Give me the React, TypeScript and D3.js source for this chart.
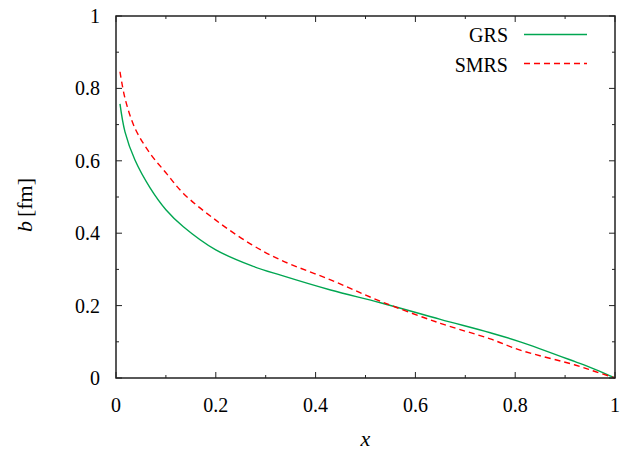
import * as d3 from "d3";

// x positions (momentum fraction)
const xs = [0.008, 0.018, 0.038, 0.068, 0.1, 0.135, 0.2, 0.27, 0.33, 0.43, 0.53, 0.65, 0.75, 0.81, 0.92, 0.96, 1.0];
const grs = [0.757, 0.68, 0.602, 0.526, 0.465, 0.418, 0.354, 0.311, 0.284, 0.243, 0.208, 0.162, 0.125, 0.1, 0.045, 0.024, 0];
const smrs = [0.846, 0.773, 0.69, 0.621, 0.567, 0.51, 0.436, 0.37, 0.326, 0.271, 0.212, 0.151, 0.108, 0.077, 0.036, 0.018, 0];

const majorTicks = [0, 0.2, 0.4, 0.6, 0.8, 1];
const minorTicks = [0.1, 0.3, 0.5, 0.7, 0.9];
const tickLabels = ["0", "0.2", "0.4", "0.6", "0.8", "1"];

const seriesNames = ["GRS", "SMRS"];

const W = 620;
const H = 454;
const margin = { left: 116, right: 5, top: 16, bottom: 76 };
const font = "'Liberation Serif', 'DejaVu Serif', serif";

export default function App() {
  const x = d3.scaleLinear().domain([0, 1]).range([margin.left, W - margin.right]);
  const y = d3.scaleLinear().domain([0, 1]).range([H - margin.bottom, margin.top]);

  const line = d3
    .line<number>()
    .x((_, i) => x(xs[i]))
    .y((d) => y(d))
    .curve(d3.curveCatmullRom.alpha(0.5));

  const x0 = x(0), x1 = x(1), y0 = y(0), y1 = y(1);

  const series = [
    { name: seriesNames[0], data: grs, color: "#00a651", dash: undefined },
    { name: seriesNames[1], data: smrs, color: "#ff0000", dash: "6,4" },
  ];

  return (
    <svg
      width={W}
      height={H}
      style={{ position: "absolute", left: 0, top: 0, background: "#fff" }}
    >
      {/* curves */}
      {series.map((s) => (
        <path
          key={s.name}
          d={line(s.data) ?? undefined}
          fill="none"
          stroke={s.color}
          strokeWidth={1.4}
          strokeDasharray={s.dash}
        />
      ))}

      {/* ticks, all four sides */}
      {majorTicks.map((t) => (
        <g key={"M" + t} stroke="#222" strokeWidth={1}>
          <line x1={x(t)} x2={x(t)} y1={y0} y2={y0 - 6} />
          <line x1={x(t)} x2={x(t)} y1={y1} y2={y1 + 6} />
          <line x1={x0} x2={x0 + 6} y1={y(t)} y2={y(t)} />
          <line x1={x1} x2={x1 - 6} y1={y(t)} y2={y(t)} />
        </g>
      ))}
      {minorTicks.map((t) => (
        <g key={"m" + t} stroke="#222" strokeWidth={1}>
          <line x1={x(t)} x2={x(t)} y1={y0} y2={y0 - 3} />
          <line x1={x(t)} x2={x(t)} y1={y1} y2={y1 + 3} />
          <line x1={x0} x2={x0 + 3} y1={y(t)} y2={y(t)} />
          <line x1={x1} x2={x1 - 3} y1={y(t)} y2={y(t)} />
        </g>
      ))}

      {/* frame */}
      <rect
        x={x0}
        y={y1}
        width={x1 - x0}
        height={y0 - y1}
        fill="none"
        stroke="#222"
        strokeWidth={1.5}
      />

      {/* tick labels */}
      {majorTicks.map((t, i) => (
        <text key={"xl" + t} x={x(t)} y={y0 + 34} textAnchor="middle" fontSize={20} fontFamily={font} fill="#000">
          {tickLabels[i]}
        </text>
      ))}
      {majorTicks.map((t, i) => (
        <text key={"yl" + t} x={x0 - 16} y={y(t) + 7} textAnchor="end" fontSize={20} fontFamily={font} fill="#000">
          {tickLabels[i]}
        </text>
      ))}

      {/* axis titles */}
      <text x={(x0 + x1) / 2} y={446} textAnchor="middle" fontSize={22} fontFamily={font} fontStyle="italic" fill="#000">
        x
      </text>
      <text
        transform={`translate(32, ${(y0 + y1) / 2 + 8}) rotate(-90)`}
        textAnchor="middle"
        fontSize={22}
        fontFamily={font}
        fill="#000"
      >
        <tspan fontStyle="italic">b</tspan>
        <tspan dx={4}>[fm]</tspan>
      </text>

      {/* legend */}
      {series.map((s, i) => (
        <g key={"lg" + s.name}>
          <text x={508} y={42 + i * 30} textAnchor="end" fontSize={20} fontFamily={font} fill="#000">
            {s.name}
          </text>
          <line
            x1={524}
            x2={587}
            y1={34.5 + i * 29}
            y2={34.5 + i * 29}
            stroke={s.color}
            strokeWidth={1.4}
            strokeDasharray={s.dash}
          />
        </g>
      ))}
    </svg>
  );
}
